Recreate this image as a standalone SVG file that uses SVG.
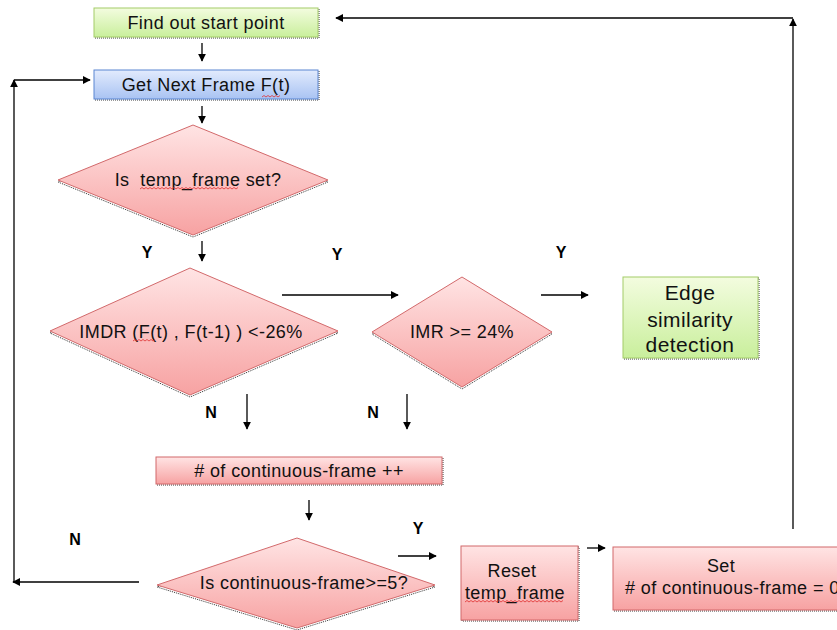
<svg xmlns="http://www.w3.org/2000/svg" width="837" height="630" viewBox="0 0 837 630">
  <defs>
    <linearGradient id="gGreen" x1="0" y1="0" x2="0" y2="1">
      <stop offset="0" stop-color="#f3fcdf"/>
      <stop offset="1" stop-color="#c9ef9c"/>
    </linearGradient>
    <linearGradient id="gBlue" x1="0" y1="0" x2="0" y2="1">
      <stop offset="0" stop-color="#e2ebfd"/>
      <stop offset="1" stop-color="#a9c3f3"/>
    </linearGradient>
    <linearGradient id="gRed" x1="0" y1="0" x2="0" y2="1">
      <stop offset="0" stop-color="#ffe4e4"/>
      <stop offset="1" stop-color="#f7a2a2"/>
    </linearGradient>
    <marker id="arrow" viewBox="0 0 10 10" refX="9" refY="5" markerWidth="8" markerHeight="8" markerUnits="userSpaceOnUse" orient="auto">
      <path d="M0,0 L10,5 L0,10 z" fill="#000"/>
    </marker>
    <style>
      .green { fill: url(#gGreen); stroke: #a4cc68; stroke-width: 1; }
      .blue { fill: url(#gBlue); stroke: #5b86d2; stroke-width: 1; }
      .red { fill: url(#gRed); stroke: #d2696b; stroke-width: 1; }
      .shadow { fill: none; stroke: #333; stroke-width: 1; stroke-dasharray: 1 1; }
      .label { font-family: "Liberation Sans", Arial, sans-serif; font-size: 18px; letter-spacing: 0.4px; fill: #111; text-anchor: middle; white-space: pre; }
      .big { font-size: 21px; }
      .yn { font-family: "Liberation Sans", Arial, sans-serif; font-size: 16px; font-weight: bold; fill: #000; text-anchor: middle; }
      .conn { fill: none; stroke: #000; stroke-width: 1.3; }
      .spell { fill: none; stroke: #e03030; stroke-width: 0.8; }
    </style>
  </defs>

  <rect width="837" height="630" fill="#fff"/>

  <!-- connectors -->
  <g id="connectors">
    <line class="conn" x1="202" y1="43" x2="202" y2="61" marker-end="url(#arrow)"/>
    <line class="conn" x1="202" y1="106" x2="202" y2="123" marker-end="url(#arrow)"/>
    <line class="conn" x1="202" y1="241" x2="202" y2="261" marker-end="url(#arrow)"/>
    <line class="conn" x1="282" y1="295" x2="398" y2="295" marker-end="url(#arrow)"/>
    <line class="conn" x1="541" y1="295" x2="588" y2="295" marker-end="url(#arrow)"/>
    <line class="conn" x1="247" y1="394" x2="247" y2="429" marker-end="url(#arrow)"/>
    <line class="conn" x1="407" y1="394" x2="407" y2="429" marker-end="url(#arrow)"/>
    <line class="conn" x1="309" y1="500" x2="309" y2="520" marker-end="url(#arrow)"/>
    <line class="conn" x1="398" y1="556" x2="436" y2="556" marker-end="url(#arrow)"/>
    <line class="conn" x1="587" y1="548" x2="605" y2="548" marker-end="url(#arrow)"/>
    <!-- loop back to Get Next Frame -->
    <line class="conn" x1="139" y1="582" x2="13" y2="582" marker-end="url(#arrow)"/>
    <line class="conn" x1="14" y1="582" x2="14" y2="80" marker-end="url(#arrow)"/>
    <line class="conn" x1="14" y1="80" x2="90" y2="80" marker-end="url(#arrow)"/>
    <!-- loop back to start point -->
    <line class="conn" x1="793" y1="529" x2="793" y2="19" marker-end="url(#arrow)"/>
    <line class="conn" x1="793" y1="18" x2="336" y2="18" marker-end="url(#arrow)"/>
  </g>

  <!-- branch labels -->
  <g id="branch-labels">
    <text class="yn" x="147" y="258">Y</text>
    <text class="yn" x="337" y="260">Y</text>
    <text class="yn" x="561" y="258">Y</text>
    <text class="yn" x="211" y="418">N</text>
    <text class="yn" x="373" y="418">N</text>
    <text class="yn" x="418" y="534">Y</text>
    <text class="yn" x="75" y="545">N</text>
  </g>

  <g id="find-start">
    <rect class="shadow" x="95" y="9" width="224" height="29"/>
    <rect class="green" x="94" y="8" width="224" height="29"/>
    <text class="label" x="206" y="29">Find out start point</text>
  </g>

  <g id="get-next-frame">
    <rect class="shadow" x="95" y="71" width="224" height="29"/>
    <rect class="blue" x="94" y="70" width="224" height="29"/>
    <text class="label" x="206" y="91">Get Next Frame F(t)</text>
    <path class="spell" d="M262,97 l2,-1.5 l2,1.5 l2,-1.5 l2,1.5 l2,-1.5 l2,1.5 l2,-1.5 l2,1.5 l2,-1.5"/>
  </g>

  <g id="temp-frame-check">
    <polygon class="shadow" points="193,127 328,182 193,237 58,182"/>
    <polygon class="red" points="193,125 328,180 193,235 58,180"/>
    <text class="label" x="198" y="186">Is  temp_frame set?</text>
    <path class="spell" d="M140,189 l2,-1.5 l2,1.5 l2,-1.5 l2,1.5 l2,-1.5 l2,1.5 l2,-1.5 l2,1.5 l2,-1.5 l2,1.5 l2,-1.5 l2,1.5 l2,-1.5 l2,1.5 l2,-1.5 l2,1.5 l2,-1.5 l2,1.5 l2,-1.5 l2,1.5 l2,-1.5 l2,1.5 l2,-1.5 l2,1.5 l2,-1.5 l2,1.5 l2,-1.5 l2,1.5 l2,-1.5 l2,1.5 l2,-1.5 l2,1.5 l2,-1.5 l2,1.5 l2,-1.5 l2,1.5 l2,-1.5 l2,1.5 l2,-1.5 l2,1.5 l2,-1.5 l2,1.5 l2,-1.5 l2,1.5 l2,-1.5 l2,1.5 l2,-1.5 l2,1.5 l2,-1.5"/>
  </g>

  <g id="imdr-check">
    <polygon class="shadow" points="190,270 338,333 190,397 50,333"/>
    <polygon class="red" points="190,268 338,331 190,395 50,331"/>
    <text class="label" x="191" y="338">IMDR (F(t) , F(t-1) ) &lt;-26%</text>
    <path class="spell" d="M133,341 l2,-1.5 l2,1.5 l2,-1.5 l2,1.5 l2,-1.5 l2,1.5 l2,-1.5 l2,1.5 l2,-1.5 l2,1.5 l2,-1.5"/>
  </g>

  <g id="imr-check">
    <polygon class="shadow" points="462,279 552,334 462,389 372,334"/>
    <polygon class="red" points="462,277 552,332 462,387 372,332"/>
    <text class="label" x="462" y="338">IMR &gt;= 24%</text>
  </g>

  <g id="edge-similarity">
    <rect class="shadow" x="624" y="278" width="135" height="81"/>
    <rect class="green" x="623" y="277" width="135" height="81"/>
    <text class="label big" x="690" y="300">Edge</text>
    <text class="label big" x="690" y="327">similarity</text>
    <text class="label big" x="690" y="352">detection</text>
  </g>

  <g id="continuous-inc">
    <rect class="shadow" x="157" y="458" width="286" height="27"/>
    <rect class="red" x="156" y="457" width="286" height="27"/>
    <text class="label" x="299" y="477"># of continuous-frame ++</text>
  </g>

  <g id="continuous-check">
    <polygon class="shadow" points="297,540 435,587 297,630 157,587"/>
    <polygon class="red" points="297,538 435,585 297,628 157,585"/>
    <text class="label" x="304" y="589">Is continuous-frame&gt;=5?</text>
  </g>

  <g id="reset-temp-frame">
    <rect class="shadow" x="462" y="547" width="117" height="74"/>
    <rect class="red" x="461" y="546" width="117" height="74"/>
    <text class="label" x="512" y="577">Reset</text>
    <text class="label" x="515" y="599">temp_frame</text>
    <path class="spell" d="M465,602 l2,-1.5 l2,1.5 l2,-1.5 l2,1.5 l2,-1.5 l2,1.5 l2,-1.5 l2,1.5 l2,-1.5 l2,1.5 l2,-1.5 l2,1.5 l2,-1.5 l2,1.5 l2,-1.5 l2,1.5 l2,-1.5 l2,1.5 l2,-1.5 l2,1.5 l2,-1.5 l2,1.5 l2,-1.5 l2,1.5 l2,-1.5 l2,1.5 l2,-1.5 l2,1.5 l2,-1.5 l2,1.5 l2,-1.5 l2,1.5 l2,-1.5 l2,1.5 l2,-1.5 l2,1.5 l2,-1.5 l2,1.5 l2,-1.5 l2,1.5 l2,-1.5 l2,1.5 l2,-1.5 l2,1.5 l2,-1.5 l2,1.5 l2,-1.5 l2,1.5 l2,-1.5"/>
  </g>

  <g id="set-continuous">
    <rect class="shadow" x="614" y="548" width="240" height="63"/>
    <rect class="red" x="613" y="547" width="240" height="63"/>
    <text class="label" x="721" y="572">Set</text>
    <text class="label" x="625" y="594" style="text-anchor:start"># of continuous-frame = 0</text>
  </g>
</svg>
